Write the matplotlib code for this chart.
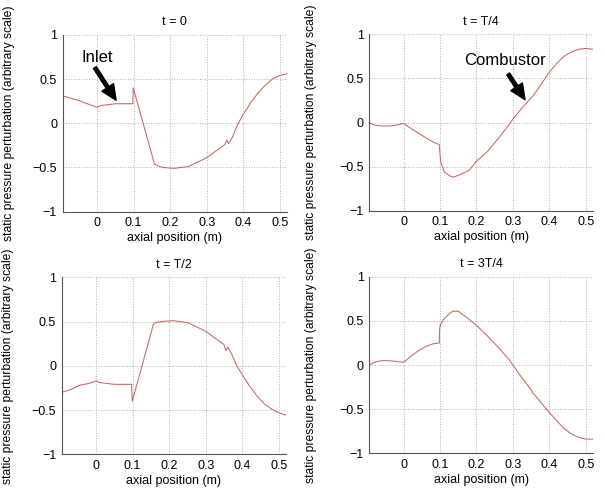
import matplotlib
matplotlib.use("Agg")
import matplotlib.pyplot as plt

plt.rcParams['font.family'] = ['Liberation Sans', 'DejaVu Sans']
plt.rcParams['font.size'] = 9

# snapshots of the standing wave
x_t0 = [-0.094, -0.07, -0.045, -0.02, 0.0, 0.01, 0.03, 0.05, 0.07, 0.098, 0.099,
        0.157, 0.165, 0.18, 0.21, 0.25, 0.28, 0.30, 0.33, 0.35, 0.355, 0.36, 0.37,
        0.385, 0.40, 0.42, 0.44, 0.46, 0.48, 0.50, 0.52]
p_t0 = [0.31, 0.28, 0.25, 0.21, 0.18, 0.20, 0.21, 0.22, 0.22, 0.22, 0.40,
        -0.46, -0.48, -0.50, -0.51, -0.49, -0.43, -0.39, -0.30, -0.24, -0.19, -0.23, -0.16,
        -0.01, 0.10, 0.23, 0.34, 0.43, 0.50, 0.54, 0.56]

x_t1 = [-0.094, -0.08, -0.06, -0.04, -0.02, 0.0, 0.025, 0.052, 0.08, 0.098, 0.099,
        0.102, 0.112, 0.125, 0.135, 0.15, 0.18, 0.2, 0.23, 0.26, 0.29, 0.30, 0.32,
        0.35, 0.355, 0.36, 0.38, 0.40, 0.42, 0.44, 0.46, 0.48, 0.50, 0.52]
p_t1 = [0.0, -0.03, -0.04, -0.04, -0.03, -0.01, -0.08, -0.15, -0.22, -0.25, -0.32,
        -0.45, -0.56, -0.60, -0.62, -0.60, -0.54, -0.44, -0.33, -0.18, -0.02, 0.04, 0.14,
        0.28, 0.30, 0.33, 0.45, 0.57, 0.67, 0.75, 0.80, 0.83, 0.84, 0.83]

x_t2 = [-0.094, -0.07, -0.045, -0.02, 0.0, 0.01, 0.03, 0.05, 0.07, 0.097, 0.099,
        0.157, 0.165, 0.18, 0.21, 0.25, 0.28, 0.30, 0.33, 0.35, 0.355, 0.36, 0.37,
        0.385, 0.40, 0.42, 0.44, 0.46, 0.48, 0.50, 0.52]
p_t2 = [-0.30, -0.27, -0.22, -0.20, -0.17, -0.19, -0.20, -0.21, -0.21, -0.21, -0.40,
        0.47, 0.49, 0.50, 0.51, 0.49, 0.43, 0.39, 0.30, 0.24, 0.17, 0.21, 0.14,
        0.0, -0.10, -0.23, -0.34, -0.43, -0.49, -0.53, -0.56]

x_t3 = [-0.094, -0.08, -0.06, -0.04, -0.02, 0.0, 0.02, 0.04, 0.06, 0.08, 0.098, 0.099,
        0.102, 0.11, 0.125, 0.135, 0.15, 0.17, 0.2, 0.23, 0.26, 0.29, 0.3, 0.32,
        0.35, 0.355, 0.36, 0.38, 0.40, 0.42, 0.44, 0.46, 0.48, 0.50, 0.52]
p_t3 = [0.0, 0.03, 0.05, 0.05, 0.04, 0.03, 0.10, 0.16, 0.21, 0.24, 0.25, 0.42,
        0.47, 0.52, 0.58, 0.61, 0.61, 0.55, 0.45, 0.33, 0.20, 0.06, 0.0, -0.12,
        -0.28, -0.32, -0.34, -0.44, -0.54, -0.63, -0.72, -0.78, -0.82, -0.84, -0.84]

titles = ['t = 0', 't = T/4', 't = T/2', 't = 3T/4']
xs = [x_t0, x_t1, x_t2, x_t3]
ps = [p_t0, p_t1, p_t2, p_t3]
x_ticks = [0, 0.1, 0.2, 0.3, 0.4, 0.5]
y_ticks = [-1, -0.5, 0, 0.5, 1]

fig = plt.figure(figsize=(6.05, 4.9), dpi=100)

# axes boxes in figure fractions (left, bottom, width, height)
boxes = [(0.1036, 0.568, 0.371, 0.361),
         (0.6104, 0.570, 0.370, 0.360),
         (0.1020, 0.073, 0.371, 0.361),
         (0.6104, 0.075, 0.370, 0.360)]

axes = []
for i in range(4):
    ax = fig.add_axes(boxes[i])
    ax.plot(xs[i], ps[i], color='#cc6464', linewidth=0.75)
    ax.set_xlim(-0.094, 0.52)
    ax.set_ylim(-1, 1)
    ax.set_xticks(x_ticks)
    ax.set_xticklabels(['0', '0.1', '0.2', '0.3', '0.4', '0.5'])
    ax.set_yticks(y_ticks)
    ax.set_yticklabels(['\u22121', '\u22120.5', '0', '0.5', '1'])
    ax.grid(True, linestyle=':', color='#b0b0b0', linewidth=0.7)
    ax.spines['top'].set_visible(False)
    ax.spines['right'].set_visible(False)
    ax.spines['left'].set_color('#555555')
    ax.spines['bottom'].set_color('#555555')
    ax.tick_params(direction='in', length=0, pad=4, labelsize=9)
    ax.set_title(titles[i], fontsize=9, pad=7)
    ax.set_xlabel('axial position (m)', fontsize=9, labelpad=2)
    ax.set_ylabel('static pressure perturbation (arbitrary scale)', fontsize=8.7)
    if i % 2 == 0:
        ax.yaxis.set_label_coords(-0.212, 0.5)
    else:
        ax.yaxis.set_label_coords(-0.232, 0.5)
    axes.append(ax)

# annotations: label text plus a separate thick arrow
arrow = dict(facecolor='black', edgecolor='black', width=2.5, headwidth=10, headlength=11, shrink=0)
axes[0].text(0.0, 0.74, 'Inlet', fontsize=12, ha='center', va='center')
axes[0].annotate('', xy=(0.052, 0.26), xytext=(-0.006, 0.63), arrowprops=arrow)
axes[1].text(0.277, 0.70, 'Combustor', fontsize=12, ha='center', va='center')
axes[1].annotate('', xy=(0.333, 0.26), xytext=(0.287, 0.55), arrowprops=arrow)

plt.savefig('out.png', dpi=100)
